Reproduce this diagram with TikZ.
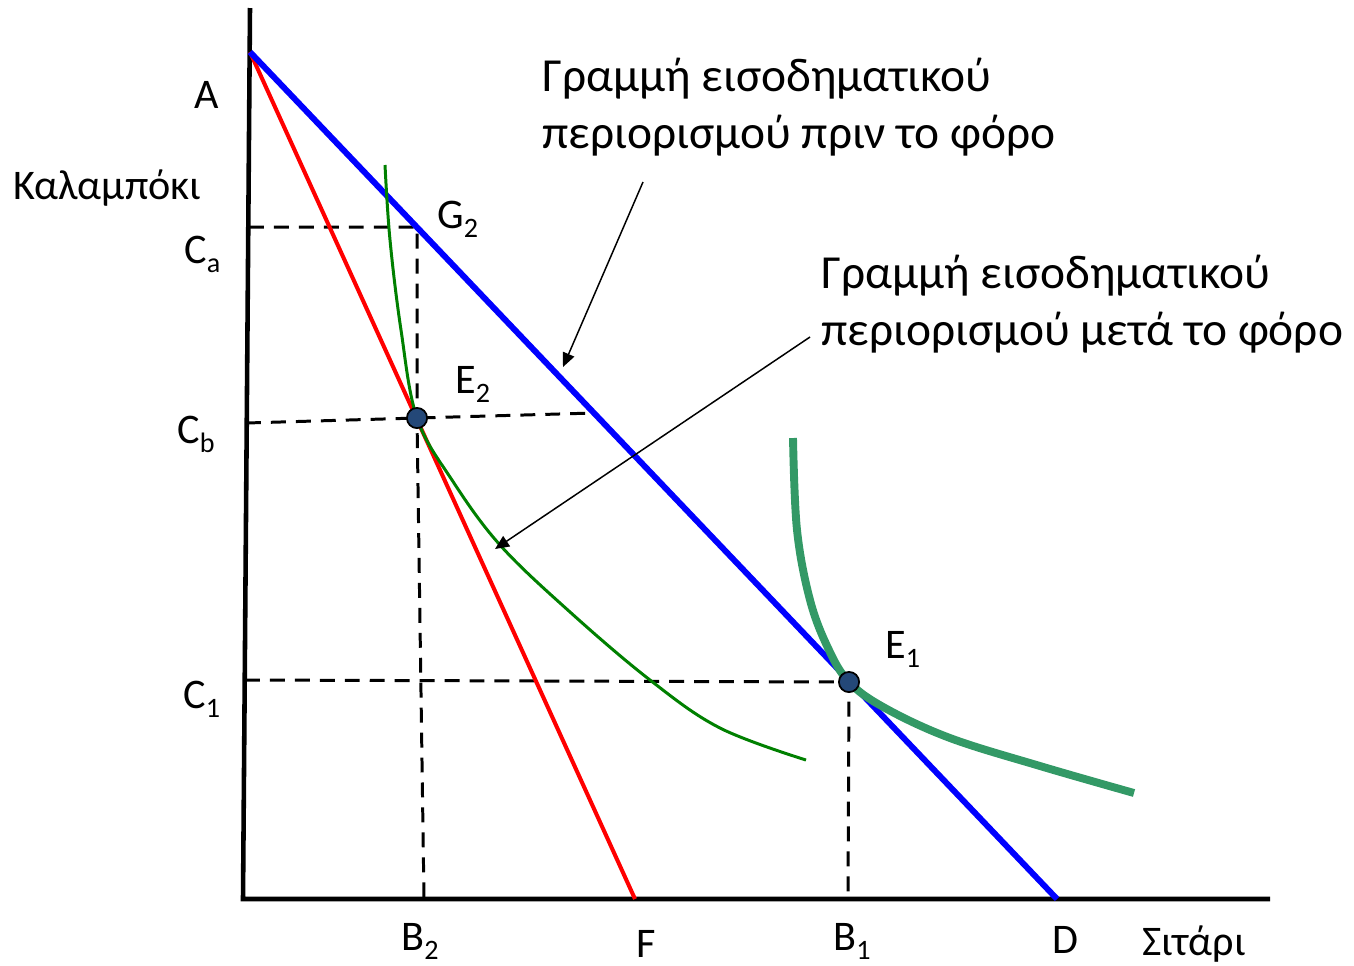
\documentclass[tikz,border=0pt]{standalone}
\usepackage{fontspec}
\setmainfont{Carlito}
\usepackage{tikz}
\usetikzlibrary{arrows.meta, positioning}
\definecolor{budgetblue}{RGB}{0,0,255}
\definecolor{taxred}{RGB}{255,0,0}
\definecolor{icgreen}{RGB}{0,128,0}
\definecolor{icteal}{RGB}{51,153,102}
\definecolor{dotblue}{RGB}{36,72,120}
\newcommand{\lsub}[1]{\raisebox{-5.5pt}{\fontsize{16}{16}\selectfont #1}}

\begin{document}
\begin{tikzpicture}[x=0.02cm, y=-0.02cm,
    lbl/.style={font=\fontsize{24}{32}\selectfont, inner sep=0pt},
    note/.style={lbl, font=\fontsize{27}{32.5}\selectfont, align=left, anchor=north west},
    axis/.style={line width=2.6pt, black},
    guide/.style={line width=1.7pt, dash pattern=on 8.5pt off 5.7pt},
    dot/.style={circle, draw=black, fill=dotblue, line width=1pt, minimum size=11.5pt, inner sep=0pt},
    pointer/.style={-{Triangle[length=8pt, width=7pt]}, line width=0.85pt}
]
\useasboundingbox (0,0) rectangle (1354,965);

% points of the graph
\coordinate (ytop) at (250,8);
\coordinate (origin) at (243,899);
\coordinate (xend) at (1270,899);
\coordinate (A) at (250,52);
\coordinate (D) at (1057,899);
\coordinate (F) at (635,899);
\coordinate (G2) at (417,227);
\coordinate (E2) at (417,418);
\coordinate (E1) at (849,682);
\coordinate (B2) at (424,899);
\coordinate (B1) at (848,899);
\coordinate (Ca) at (249,227);
\coordinate (Cb) at (246,423);
\coordinate (C1) at (245,680);
\coordinate (Cbend) at (594,413);

% axes
\draw[axis] (ytop) -- (origin) -- (xend);

% guide lines
\draw[guide] (Ca) -- (G2) -- (E2) -- (B2);
\draw[guide] (Cb) -- (E2) -- (Cbend);
\draw[guide] (C1) -- (E1) -- (B1);

% budget lines
\draw[taxred, line width=2.3pt] (A) -- (F);
\draw[budgetblue, line width=3.4pt] (A) -- (D);

% indifference curves
\draw[icgreen, line width=1.7pt] plot[smooth, tension=0.6] coordinates
  {(385,165) (390,240) (401,330) (417,418) (452,480) (500,545) (570,612) (650,680) (720,728) (806,760)};
\draw[icteal, line width=4.5pt] plot[smooth, tension=0.6] coordinates
  {(793,438) (797,530) (810,600) (828,648) (849,682) (885,708) (950,738) (1040,766) (1134,793)};

\node[dot] (dotE2) at (E2) {};
\node[dot] (dotE1) at (E1) {};

% labels
\node[lbl] (labA) at (207,95) {A};
\node[lbl] (corn) at (107,188) {Καλαμπόκι};
\node[lbl, anchor=base west] (labCa) at (184,263) {C\lsub{a}};
\node[lbl, anchor=base west] (labCb) at (177,443) {C\lsub{b}};
\node[lbl, anchor=base west] (labC1) at (183,708) {C\lsub{1}};
\node[lbl, anchor=base west] (labG2) at (437,228) {G\lsub{2}};
\node[lbl, anchor=base west] (labE2) at (455,393) {E\lsub{2}};
\node[lbl, anchor=base west] (labE1) at (885,658) {E\lsub{1}};
\node[lbl, anchor=base west] (labB2) at (401,950) {B\lsub{2}};
\node[lbl, anchor=base west] (labF) at (636,957) {F};
\node[lbl, anchor=base west] (labB1) at (833,950) {B\lsub{1}};
\node[lbl, anchor=base west] (labD) at (1052,953) {D};
\node[lbl, anchor=base west] (wheat) at (1142,955) {Σιτάρι};

\node[note] (before) at (542,58) {Γραμμή εισοδηματικού\\περιορισμού πριν το φόρο};
\node[note] (after) at (821,255) {Γραμμή εισοδηματικού\\περιορισμού μετά το φόρο};

% pointers
\coordinate (beforetail) at (643,182);
\coordinate (beforetip) at (563,367);
\coordinate (aftertail) at (810,337);
\coordinate (aftertip) at (495,549);
\draw[pointer] (beforetail) -- (beforetip);
\draw[pointer] (aftertail) -- (aftertip);
\end{tikzpicture}
\end{document}
